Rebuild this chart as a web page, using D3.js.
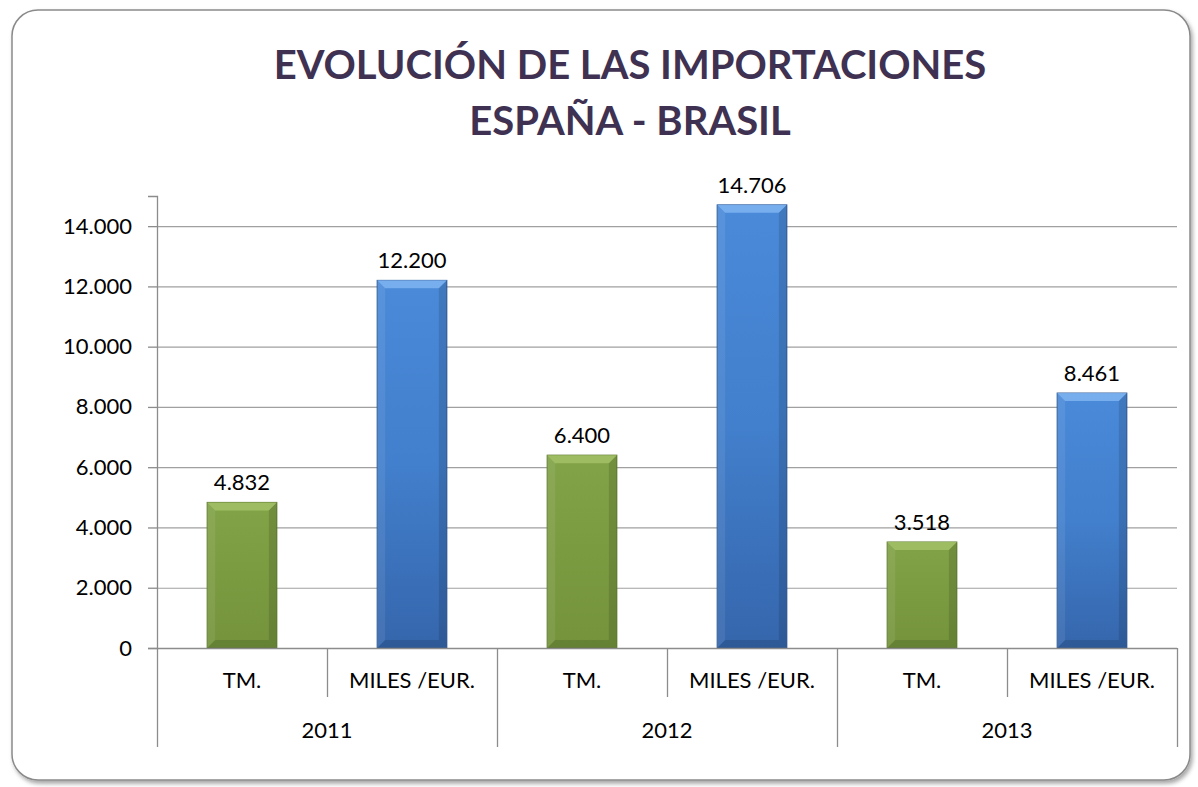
<!DOCTYPE html>
<html>
<head>
<meta charset="utf-8">
<script src="https://cdn.jsdelivr.net/npm/d3@7"></script>
<style>
  body { margin: 0; background: #fff; }
  svg { display: block; font-family: Lato, "Noto Sans", sans-serif; }
</style>
</head>
<body>
<div id="chart"></div>
<script>
const years = ['2011', '2012', '2013'];
const measures = ['TM.', 'MILES /EUR.'];
const values = [4832, 12200, 6400, 14706, 3518, 8461];
const yTicks = [0, 2000, 4000, 6000, 8000, 10000, 12000, 14000];
const titleLines = ['EVOLUCIÓN DE LAS IMPORTACIONES', 'ESPAÑA - BRASIL'];

const width = 1198;
const height = 787;
const margin = { left: 157, right: 21, top: 196, bottom: 139 };

const svg = d3.select('#chart').append('svg')
  .attr('width', width)
  .attr('height', height);

const defs = svg.append('defs');

// soft shadow for the frame
const shadow = defs.append('filter').attr('id', 'shadow')
  .attr('x', '-5%').attr('y', '-5%').attr('width', '110%').attr('height', '110%');
shadow.append('feDropShadow')
  .attr('dx', 2).attr('dy', 3).attr('stdDeviation', 2)
  .attr('flood-color', '#000').attr('flood-opacity', 0.35);

function barGradient(id, light, mid, dark) {
  const g = defs.append('linearGradient').attr('id', id)
    .attr('x1', 0).attr('y1', 0).attr('x2', 0).attr('y2', 1);
  g.append('stop').attr('offset', '0%').attr('stop-color', light);
  g.append('stop').attr('offset', '50%').attr('stop-color', mid);
  g.append('stop').attr('offset', '100%').attr('stop-color', dark);
}
barGradient('gGreen', '#82a347', '#7b9b41', '#74933b');
barGradient('gBlue', '#4a8ad9', '#427fcc', '#3566ac');

const colors = { 'TM.': 'url(#gGreen)', 'MILES /EUR.': 'url(#gBlue)' };
const edgeColors = { 'TM.': '#5f7a2c', 'MILES /EUR.': '#2d5894' };
const topColors = { 'TM.': '#a3c268', 'MILES /EUR.': '#7fb4f0' };

// frame
svg.append('rect')
  .attr('x', 12).attr('y', 10)
  .attr('width', 1178).attr('height', 770)
  .attr('rx', 26).attr('ry', 26)
  .attr('fill', '#fff')
  .attr('stroke', '#8a8a8a')
  .attr('stroke-width', 1.5)
  .attr('filter', 'url(#shadow)');

// title
svg.append('g').selectAll('text')
  .data(titleLines)
  .join('text')
  .attr('x', 630)
  .attr('y', (d, i) => 79 + i * 56)
  .attr('text-anchor', 'middle')
  .attr('font-size', 40)
  .attr('font-weight', 'bold')
  .attr('fill', '#3f3151')
  .text(d => d);

const innerW = width - margin.left - margin.right;
const plotBottom = height - margin.bottom;

const data = [];
years.forEach((yr, i) => {
  measures.forEach((m, j) => {
    data.push({ year: yr, measure: m, key: yr + '|' + m, value: values[i * measures.length + j] });
  });
});

const x = d3.scaleBand()
  .domain(data.map(d => d.key))
  .range([margin.left, margin.left + innerW])
  .paddingInner(0)
  .paddingOuter(0);

const xYear = d3.scaleBand()
  .domain(years)
  .range([margin.left, margin.left + innerW]);

const y = d3.scaleLinear()
  .domain([0, 15000])
  .range([plotBottom, margin.top]);

const fmt = v => d3.format(',')(v).replace(/,/g, '.');

// gridlines
svg.append('g').selectAll('line')
  .data(yTicks.filter(t => t > 0))
  .join('line')
  .attr('x1', margin.left)
  .attr('x2', margin.left + innerW)
  .attr('y1', d => y(d) + 0.5)
  .attr('y2', d => y(d) + 0.5)
  .attr('stroke', '#a0a0a0')
  .attr('stroke-width', 1.2);

// y axis
const yAxis = svg.append('g')
  .attr('transform', `translate(${margin.left},0)`)
  .call(d3.axisLeft(y).tickValues(yTicks).tickFormat(fmt).tickSize(9).tickPadding(16));
yAxis.select('.domain').attr('stroke', '#8c8c8c').attr('stroke-width', 1.3);
yAxis.selectAll('.tick line').attr('stroke', '#8c8c8c').attr('stroke-width', 1.3);
yAxis.selectAll('.tick text')
  .attr('font-size', 22)
  .attr('fill', '#000')
  .attr('font-family', 'Lato, "Noto Sans", sans-serif');

// bars
const barW = x.bandwidth() * 0.41;
const bars = svg.append('g').selectAll('g')
  .data(data)
  .join('g')
  .attr('transform', d => `translate(${x(d.key) + (x.bandwidth() - barW) / 2},0)`);

bars.append('rect')
  .attr('x', 0)
  .attr('y', d => y(d.value))
  .attr('width', barW)
  .attr('height', d => plotBottom - y(d.value))
  .attr('fill', d => colors[d.measure])
  .attr('stroke', d => edgeColors[d.measure])
  .attr('stroke-width', 1);

// bevel: lighter top band, darker side strips
const bev = 8;
bars.append('path')
  .attr('d', d => {
    const t = y(d.value);
    return `M0,${t} L${barW},${t} L${barW - bev},${t + bev} L${bev},${t + bev} Z`;
  })
  .attr('fill', d => topColors[d.measure])
  .attr('opacity', 0.85);

bars.append('path')
  .attr('d', d => {
    const t = y(d.value);
    return `M0,${t} L${bev},${t + bev} L${bev},${plotBottom - bev} L0,${plotBottom} Z`;
  })
  .attr('fill', '#fff')
  .attr('opacity', 0.08);

bars.append('path')
  .attr('d', d => {
    const t = y(d.value);
    return `M${barW},${t} L${barW - bev},${t + bev} L${barW - bev},${plotBottom - bev} L${barW},${plotBottom} Z`;
  })
  .attr('fill', '#000')
  .attr('opacity', 0.12);

bars.append('path')
  .attr('d', d => `M0,${plotBottom} L${bev},${plotBottom - bev} L${barW - bev},${plotBottom - bev} L${barW},${plotBottom} Z`)
  .attr('fill', '#000')
  .attr('opacity', 0.12);

// value labels
bars.append('text')
  .attr('x', barW / 2)
  .attr('y', d => y(d.value) - 12)
  .attr('text-anchor', 'middle')
  .attr('font-size', 22)
  .attr('fill', '#000')
  .text(d => fmt(d.value));

// x axis baseline
svg.append('line')
  .attr('x1', margin.left)
  .attr('x2', margin.left + innerW)
  .attr('y1', plotBottom + 0.5)
  .attr('y2', plotBottom + 0.5)
  .attr('stroke', '#8c8c8c')
  .attr('stroke-width', 1.3);

// category separators (short)
svg.append('g').selectAll('line')
  .data(data.filter((d, i) => i % measures.length === 1))
  .join('line')
  .attr('x1', d => x(d.key) + 0.5)
  .attr('x2', d => x(d.key) + 0.5)
  .attr('y1', plotBottom)
  .attr('y2', plotBottom + 49)
  .attr('stroke', '#8c8c8c')
  .attr('stroke-width', 1.3);

// year separators (long)
const yearEdges = years.map(yr => xYear(yr)).concat([margin.left + innerW]);
svg.append('g').selectAll('line')
  .data(yearEdges)
  .join('line')
  .attr('x1', d => d + 0.5)
  .attr('x2', d => d + 0.5)
  .attr('y1', plotBottom)
  .attr('y2', plotBottom + 99)
  .attr('stroke', '#8c8c8c')
  .attr('stroke-width', 1.3);

// category labels
svg.append('g').selectAll('text')
  .data(data)
  .join('text')
  .attr('x', d => x(d.key) + x.bandwidth() / 2)
  .attr('y', plotBottom + 40)
  .attr('text-anchor', 'middle')
  .attr('font-size', 22)
  .attr('fill', '#000')
  .text(d => d.measure);

// year labels
svg.append('g').selectAll('text')
  .data(years)
  .join('text')
  .attr('x', d => xYear(d) + xYear.bandwidth() / 2)
  .attr('y', plotBottom + 90)
  .attr('text-anchor', 'middle')
  .attr('font-size', 22)
  .attr('fill', '#000')
  .text(d => d);
</script>
</body>
</html>
